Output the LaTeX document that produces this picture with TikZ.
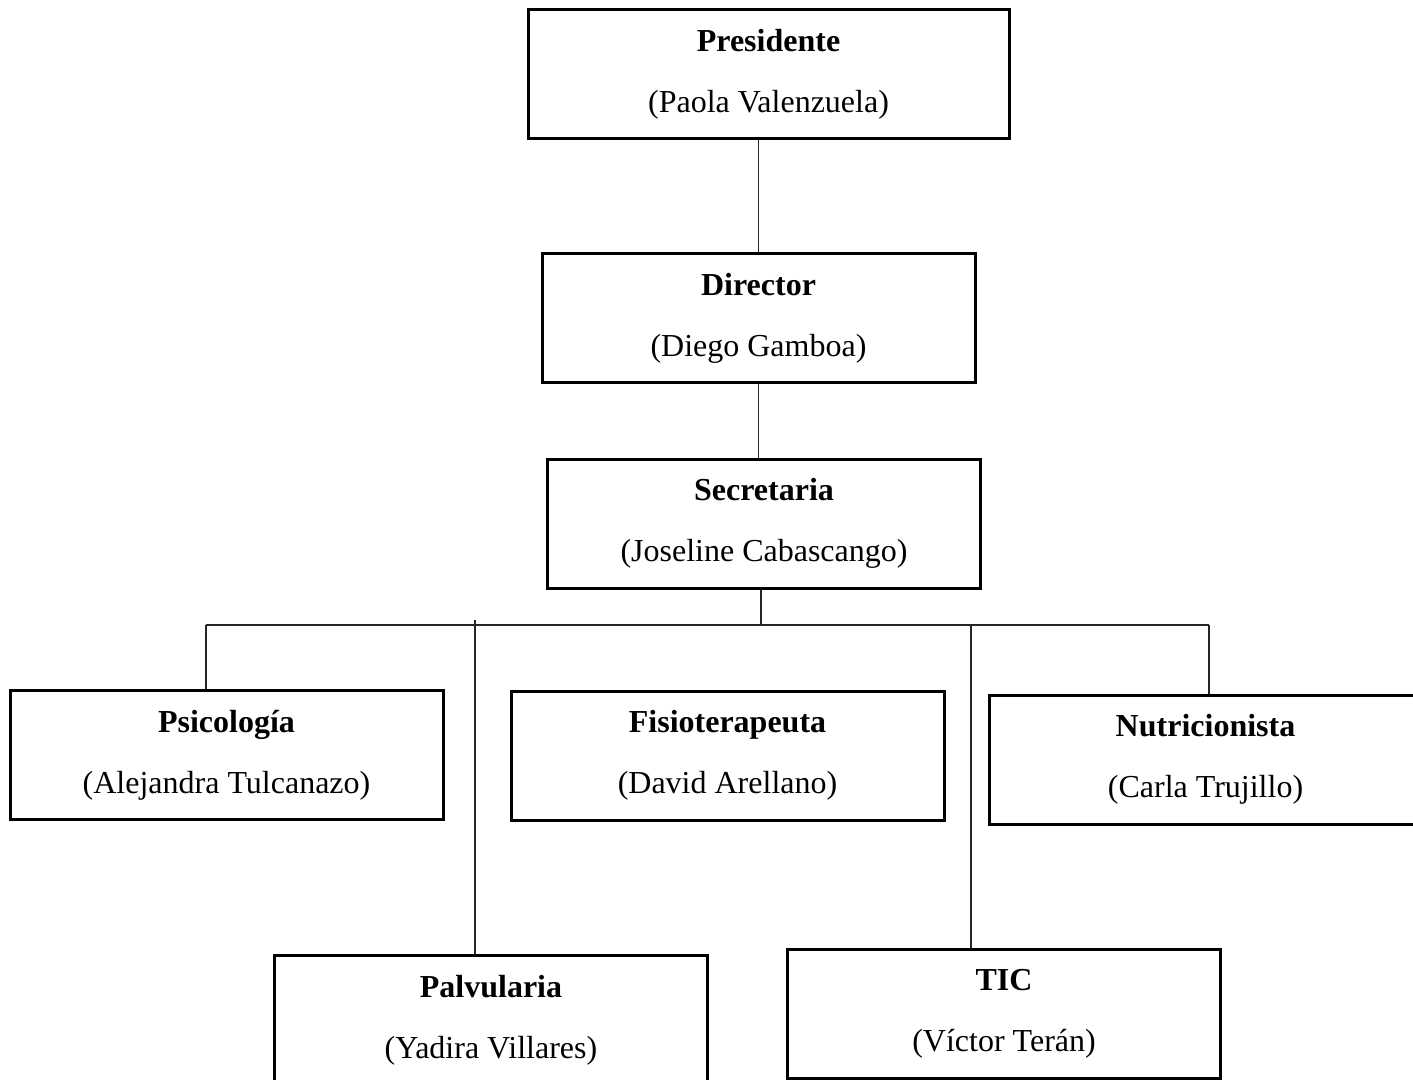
\documentclass[tikz,border=0pt]{standalone}
\usepackage{fontspec}
\setmainfont{Liberation Serif}
\usepackage{tikz}
\usetikzlibrary{positioning}

\begin{document}
\begin{tikzpicture}[x=0.5pt, y=-0.5pt, main/.style = {draw, line width=1.5pt, rectangle, align=center,
		minimum width=216.5pt, minimum height=64.5pt, font=\fontsize{16}{30.5}\selectfont},
		b/.style = {line width=0.7pt, black!85}]
		\useasboundingbox (0,0) rectangle (1413,1080);
		\clip (0,0) rectangle (1413,1080);
		\node[main] (1) [minimum width=240.5pt] at (768.5,74.5) {\textbf{Presidente}\\(Paola Valenzuela)};
		\node[main] (2) at (758.5,318.5) {\textbf{Director}\\(Diego Gamboa)};
		\node[main] (3) at (764,523.5) {\textbf{Secretaria}\\(Joseline Cabascango)};
		\node[main] (4) at (226.5,755) {\textbf{Psicología}\\(Alejandra Tulcanazo)};
		\node[main] (5) at (727.5,755.5) {\textbf{Fisioterapeuta}\\(David Arellano)};
		\node[main] (6) at (1205.5,759.5) {\textbf{Nutricionista}\\(Carla Trujillo)};
		\node[main] (7) at (491,1020) {\textbf{Palvularia}\\(Yadira Villares)};
		\node[main] (8) at (1004,1014) {\textbf{TIC}\\(Víctor Terán)};
		\coordinate (bl) at (206,625);
		\coordinate (br) at (1209,625);
		\coordinate (st) at (761,625);
		\coordinate (pt) at (475,620);
		\coordinate (tt) at (971,625);
		\draw[b] (2.north) -- (2.north |- 1.south);
		\draw[b] (2.south) -- (2.south |- 3.north);
		\draw[b] (st |- 3.south) -- (st);
		\draw[b] (bl) -- (br);
		\draw[b] (bl) -- (bl |- 4.north);
		\draw[b] (pt) -- (pt |- 7.north);
		\draw[b] (tt) -- (tt |- 8.north);
		\draw[b] (br) -- (br |- 6.north);
	\end{tikzpicture}
\end{document}
